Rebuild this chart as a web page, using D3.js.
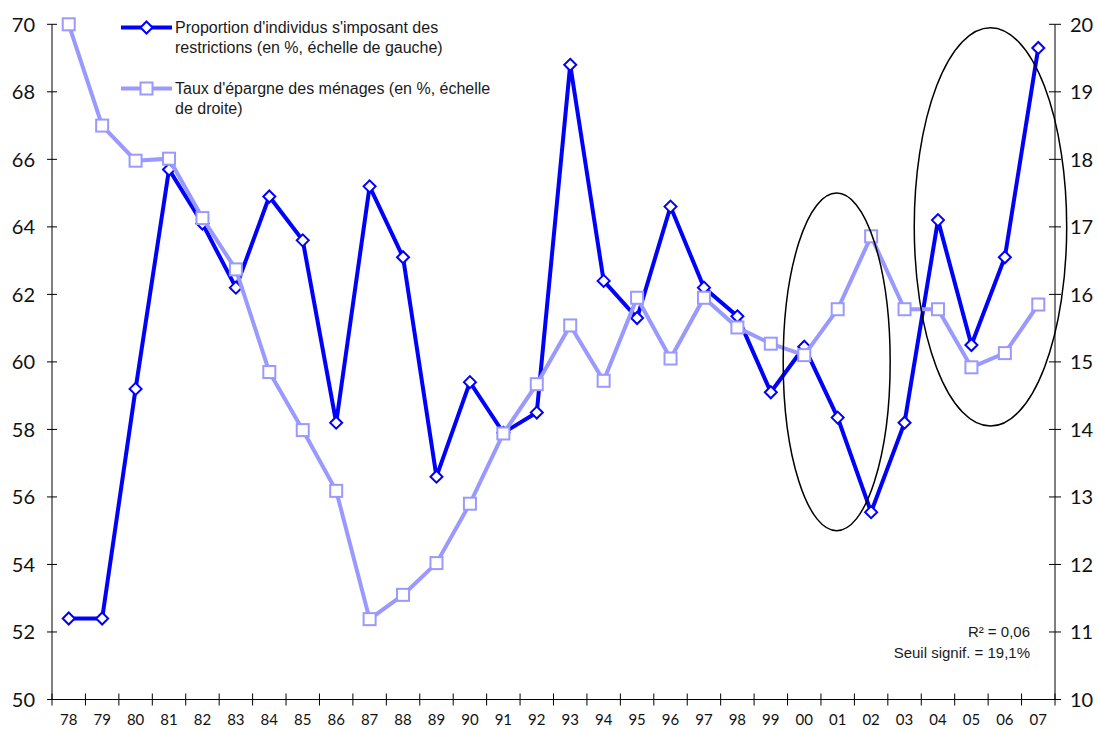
<!DOCTYPE html>
<html>
<head>
<meta charset="utf-8">
<script src="https://cdn.jsdelivr.net/npm/d3@7"></script>
<style>
    body { margin: 0; background: #fff; }
    svg { display: block; }
    .legend-text, .note { font-family: "Liberation Sans", Arial, sans-serif; fill: #1a1a1a; }
    .tick-label { font-family: Lato, "DejaVu Sans", sans-serif; fill: #111; }
</style>
</head>
<body>
<div id="chart"></div>
<script>
// Years (x categories)
const years = ['78','79','80','81','82','83','84','85','86','87','88','89','90','91','92','93','94','95','96','97','98','99','00','01','02','03','04','05','06','07'];

// Proportion of people restricting themselves (left scale, %)
const restrictions = [52.4, 52.4, 59.2, 65.7, 64.1, 62.2, 64.9, 63.6, 58.2, 65.2, 63.1, 56.6, 59.4, 57.9, 58.5, 68.8, 62.4, 61.3, 64.6, 62.2, 61.35, 59.1, 60.45, 58.35, 55.55, 58.2, 64.2, 60.5, 63.1, 69.3];

// Household saving rate (right scale, %)
const epargne = [20.0, 18.5, 17.98, 18.01, 17.13, 16.37, 14.85, 13.99, 13.09, 11.19, 11.55, 12.02, 12.9, 13.94, 14.67, 15.54, 14.72, 15.95, 15.05, 15.95, 15.51, 15.27, 15.1, 15.78, 16.86, 15.78, 15.78, 14.92, 15.13, 15.85];

// Tick values
const leftTicks = [50, 52, 54, 56, 58, 60, 62, 64, 66, 68, 70];
const rightTicks = [10, 11, 12, 13, 14, 15, 16, 17, 18, 19, 20];

// Highlight ellipses: centre position (in bands from the left axis), centre value (left scale), radii
const ellipses = [
    { band: 23.47, value: 60, rxBands: 1.6, ryValue: 5.0 },
    { band: 28.07, value: 64, rxBands: 2.28, ryValue: 5.9 }
];

const legendItems = [
    { lines: ["Proportion d'individus s'imposant des", 'restrictions (en %, échelle de gauche)'], color: '#0000ff', marker: 'diamond' },
    { lines: ["Taux d'épargne des ménages (en %, échelle", 'de droite)'], color: '#9999ff', marker: 'square' }
];

const width = 1098, height = 729;
const plot = { left: 52, right: 1055, top: 24.3, bottom: 699.5 };

const svg = d3.select('#chart').append('svg')
    .attr('width', width)
    .attr('height', height);

const x = d3.scaleBand()
    .domain(years)
    .range([plot.left, plot.right])
    .padding(0);

const yLeft = d3.scaleLinear().domain([50, 70]).range([plot.bottom, plot.top]);
const yRight = d3.scaleLinear().domain([10, 20]).range([plot.bottom, plot.top]);

const cx = d => x(d) + x.bandwidth() / 2;

// Left axis
svg.append('line')
    .attr('x1', plot.left).attr('x2', plot.left)
    .attr('y1', plot.top).attr('y2', plot.bottom)
    .attr('stroke', '#000');
svg.selectAll('line.ltick').data(leftTicks).enter().append('line')
    .attr('class', 'ltick')
    .attr('x1', plot.left - 5).attr('x2', plot.left + 5)
    .attr('y1', d => yLeft(d)).attr('y2', d => yLeft(d))
    .attr('stroke', '#000');
svg.selectAll('text.llabel').data(leftTicks).enter().append('text')
    .attr('class', 'tick-label llabel')
    .attr('x', plot.left - 17)
    .attr('y', d => yLeft(d))
    .attr('dy', '0.36em')
    .attr('text-anchor', 'end')
    .style('font-size', '20px')
    .text(d => d);

// Right axis
svg.append('line')
    .attr('x1', plot.right).attr('x2', plot.right)
    .attr('y1', plot.top).attr('y2', plot.bottom)
    .attr('stroke', '#000');
svg.selectAll('line.rtick').data(rightTicks).enter().append('line')
    .attr('class', 'rtick')
    .attr('x1', plot.right - 6).attr('x2', plot.right + 6)
    .attr('y1', d => yRight(d)).attr('y2', d => yRight(d))
    .attr('stroke', '#000');
svg.selectAll('text.rlabel').data(rightTicks).enter().append('text')
    .attr('class', 'tick-label rlabel')
    .attr('x', plot.right + 15)
    .attr('y', d => yRight(d))
    .attr('dy', '0.36em')
    .attr('text-anchor', 'start')
    .style('font-size', '20px')
    .text(d => d);

// Bottom axis: ticks between categories
svg.append('line')
    .attr('x1', plot.left).attr('x2', plot.right)
    .attr('y1', plot.bottom).attr('y2', plot.bottom)
    .attr('stroke', '#000');
const boundaries = years.map(d => x(d)).concat([plot.right]);
svg.selectAll('line.xtick').data(boundaries).enter().append('line')
    .attr('class', 'xtick')
    .attr('x1', d => d).attr('x2', d => d)
    .attr('y1', plot.bottom - 6).attr('y2', plot.bottom + 6)
    .attr('stroke', '#000');
svg.selectAll('text.xlabel').data(years).enter().append('text')
    .attr('class', 'tick-label xlabel')
    .attr('x', d => cx(d))
    .attr('y', 725)
    .attr('text-anchor', 'middle')
    .style('font-size', '15px')
    .text(d => d);

// Markers
function drawMarker(g, shape, color, px, py) {
    if (shape === 'diamond') {
        g.append('path')
            .attr('d', `M${px},${py - 6}L${px + 6},${py}L${px},${py + 6}L${px - 6},${py}Z`)
            .attr('fill', '#fff')
            .attr('stroke', color)
            .attr('stroke-width', 2);
    } else {
        g.append('rect')
            .attr('x', px - 6).attr('y', py - 6)
            .attr('width', 12).attr('height', 12)
            .attr('fill', '#fff')
            .attr('stroke', color)
            .attr('stroke-width', 2);
    }
}

function drawSeries(values, yScale, color, shape, lineWidth) {
    const g = svg.append('g');
    const line = d3.line()
        .x((d, i) => cx(years[i]))
        .y(d => yScale(d));
    g.append('path')
        .datum(values)
        .attr('d', line)
        .attr('fill', 'none')
        .attr('stroke', color)
        .attr('stroke-width', lineWidth)
        .attr('stroke-linejoin', 'miter');
    values.forEach((v, i) => drawMarker(g, shape, color, cx(years[i]), yScale(v)));
}

drawSeries(restrictions, yLeft, '#0000ff', 'diamond', 4);
drawSeries(epargne, yRight, '#9999ff', 'square', 4);

// Ellipses
const band = x.bandwidth();
svg.selectAll('ellipse.hl').data(ellipses).enter().append('ellipse')
    .attr('class', 'hl')
    .attr('cx', d => plot.left + d.band * band)
    .attr('cy', d => yLeft(d.value))
    .attr('rx', d => d.rxBands * band)
    .attr('ry', d => yLeft(d.value - d.ryValue) - yLeft(d.value))
    .attr('fill', 'none')
    .attr('stroke', '#000')
    .attr('stroke-width', 1.5);

// Legend
const legend = svg.append('g');
legendItems.forEach((item, i) => {
    const ly = 27.5 + i * 61;
    legend.append('line')
        .attr('x1', 121).attr('x2', 172)
        .attr('y1', ly).attr('y2', ly)
        .attr('stroke', item.color)
        .attr('stroke-width', 4);
    drawMarker(legend, item.marker, item.color, 146.5, ly);
    item.lines.forEach((t, j) => {
        legend.append('text')
            .attr('class', 'legend-text')
            .attr('x', 175)
            .attr('y', ly + j * 19.5)
            .attr('dy', '0.35em')
            .style('font-size', '16px')
            .text(t);
    });
});

// Fit statistics
const notes = ['R² = 0,06', 'Seuil signif. = 19,1%'];
svg.selectAll('text.note').data(notes).enter().append('text')
    .attr('class', 'note')
    .attr('x', 1030)
    .attr('y', (d, i) => 631.5 + i * 21.5)
    .attr('dy', '0.35em')
    .attr('text-anchor', 'end')
    .style('font-size', '15px')
    .text(d => d);
</script>
</body>
</html>
